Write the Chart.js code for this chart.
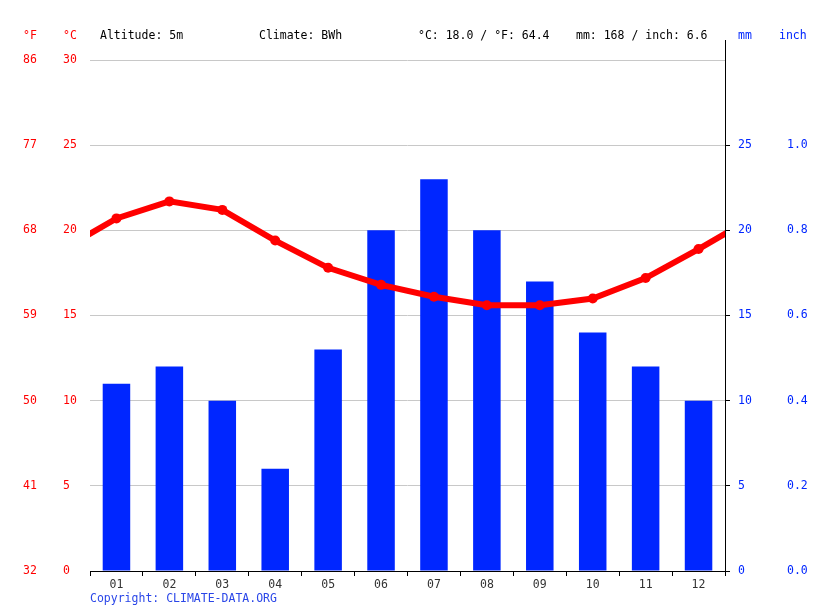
<!DOCTYPE html>
<html>
<head>
<meta charset="utf-8">
<script src="https://cdn.jsdelivr.net/npm/chart.js@4/dist/chart.umd.min.js"></script>
<style>
  html, body { margin: 0; padding: 0; background: #fff; }
  #wrap { width: 815px; height: 611px; }
</style>
</head>
<body>
<div id="wrap"><canvas id="chart" width="815" height="611"></canvas></div>
<script>
// Climate data
const months = ['01', '02', '03', '04', '05', '06', '07', '08', '09', '10', '11', '12'];
const precipMm = [11, 12, 10, 6, 13, 20, 23, 20, 17, 14, 12, 10];
const tempC = [20.7, 21.7, 21.2, 19.4, 17.8, 16.8, 16.1, 15.6, 15.6, 16.0, 17.2, 18.9];
const headerItems = [
  { text: '°F', x: 23, color: '#ff0000' },
  { text: '°C', x: 63, color: '#ff0000' },
  { text: 'Altitude: 5m', x: 100, color: '#000' },
  { text: 'Climate: BWh', x: 259, color: '#000' },
  { text: '°C: 18.0 / °F: 64.4', x: 418, color: '#000' },
  { text: 'mm: 168 / inch: 6.6', x: 576, color: '#000' },
  { text: 'mm', x: 738, color: '#0026ff' },
  { text: 'inch', x: 779, color: '#0026ff' }
];

const FONT = "'DejaVu Sans Mono', monospace";
const RED = '#ff0000';
const BLUE = '#0026ff';

// line wraps around: December before January, January after December
const linePoints = [{ x: 0, y: tempC[11] }]
  .concat(tempC.map((t, i) => ({ x: i + 1, y: t })))
  .concat([{ x: 13, y: tempC[0] }]);

const headerPlugin = {
  id: 'header',
  afterDraw(chart) {
    const ctx = chart.ctx;
    const area = chart.chartArea;
    ctx.save();
    ctx.font = '11.5px ' + FONT;
    ctx.textBaseline = 'middle';
    ctx.textAlign = 'left';
    headerItems.forEach(h => {
      ctx.fillStyle = h.color;
      ctx.fillText(h.text, h.x, 36);
    });
    ctx.fillStyle = '#2a46e8';
    ctx.fillText('Copyright: CLIMATE-DATA.ORG', 90, 599);
    // right axis line continues above the plot
    ctx.strokeStyle = '#000';
    ctx.lineWidth = 1;
    ctx.beginPath();
    ctx.moveTo(area.right + 0.5, 40);
    ctx.lineTo(area.right + 0.5, area.top);
    ctx.stroke();
    ctx.restore();
  }
};

new Chart(document.getElementById('chart'), {
  data: {
    labels: months,
    datasets: [
      {
        type: 'line',
        data: linePoints,
        xAxisID: 'xl',
        yAxisID: 'yC',
        borderColor: RED,
        backgroundColor: RED,
        borderWidth: 6,
        pointRadius: 5,
        pointBackgroundColor: RED,
        pointBorderWidth: 0,
        tension: 0,
        clip: { left: 0, right: 0, top: false, bottom: false },
        order: 0
      },
      {
        type: 'bar',
        data: precipMm,
        xAxisID: 'x',
        yAxisID: 'yMm',
        backgroundColor: BLUE,
        grouped: false,
        barPercentage: 0.52,
        categoryPercentage: 1,
        order: 1
      }
    ]
  },
  options: {
    responsive: false,
    devicePixelRatio: 1,
    animation: false,
    layout: { padding: { left: 23, top: 60, right: 0, bottom: 0 } },
    plugins: { legend: { display: false }, tooltip: { enabled: false } },
    scales: {
      x: {
        type: 'category',
        position: 'bottom',
        offset: true,
        border: { color: '#000', width: 1 },
        grid: { offset: true, drawOnChartArea: false, color: '#000', tickLength: 5 },
        ticks: { color: '#333', font: { family: FONT, size: 11.5 }, padding: 2, maxRotation: 0 },
        afterFit: s => { s.height = 40; }
      },
      xl: {
        type: 'linear',
        display: false,
        min: 0.5,
        max: 12.5
      },
      yF: {
        position: 'left',
        weight: 2,
        min: 0,
        max: 30,
        border: { display: false },
        grid: { display: false },
        ticks: {
          stepSize: 5,
          color: RED,
          crossAlign: 'far',
          font: { family: FONT, size: 11.5 },
          callback: v => Math.round(32 + v * 9 / 5)
        },
        afterFit: s => { s.width = 40; }
      },
      yC: {
        position: 'left',
        weight: 1,
        min: 0,
        max: 30,
        border: { display: false },
        grid: { color: '#c8c8c8', drawTicks: false },
        ticks: { stepSize: 5, color: RED, crossAlign: 'far', font: { family: FONT, size: 11.5 } },
        afterFit: s => { s.width = 27; }
      },
      yMm: {
        position: 'right',
        weight: 1,
        min: 0,
        max: 30,
        border: { color: '#000', width: 1 },
        grid: { drawOnChartArea: false, color: '#000', tickLength: 5 },
        ticks: { stepSize: 5, color: BLUE, crossAlign: 'near', padding: 8, font: { family: FONT, size: 11.5 } },
        afterBuildTicks: s => { s.ticks = s.ticks.filter(t => t.value < 30); },
        afterFit: s => { s.width = 54; }
      },
      yIn: {
        position: 'right',
        weight: 2,
        min: 0,
        max: 30,
        border: { display: false },
        grid: { display: false },
        ticks: {
          stepSize: 5,
          color: BLUE,
          crossAlign: 'near',
          padding: 0,
          font: { family: FONT, size: 11.5 },
          callback: v => (v / 25.4).toFixed(1)
        },
        afterBuildTicks: s => { s.ticks = s.ticks.filter(t => t.value < 30); },
        afterFit: s => { s.width = 36; }
      }
    }
  },
  plugins: [headerPlugin]
});
</script>
</body>
</html>
